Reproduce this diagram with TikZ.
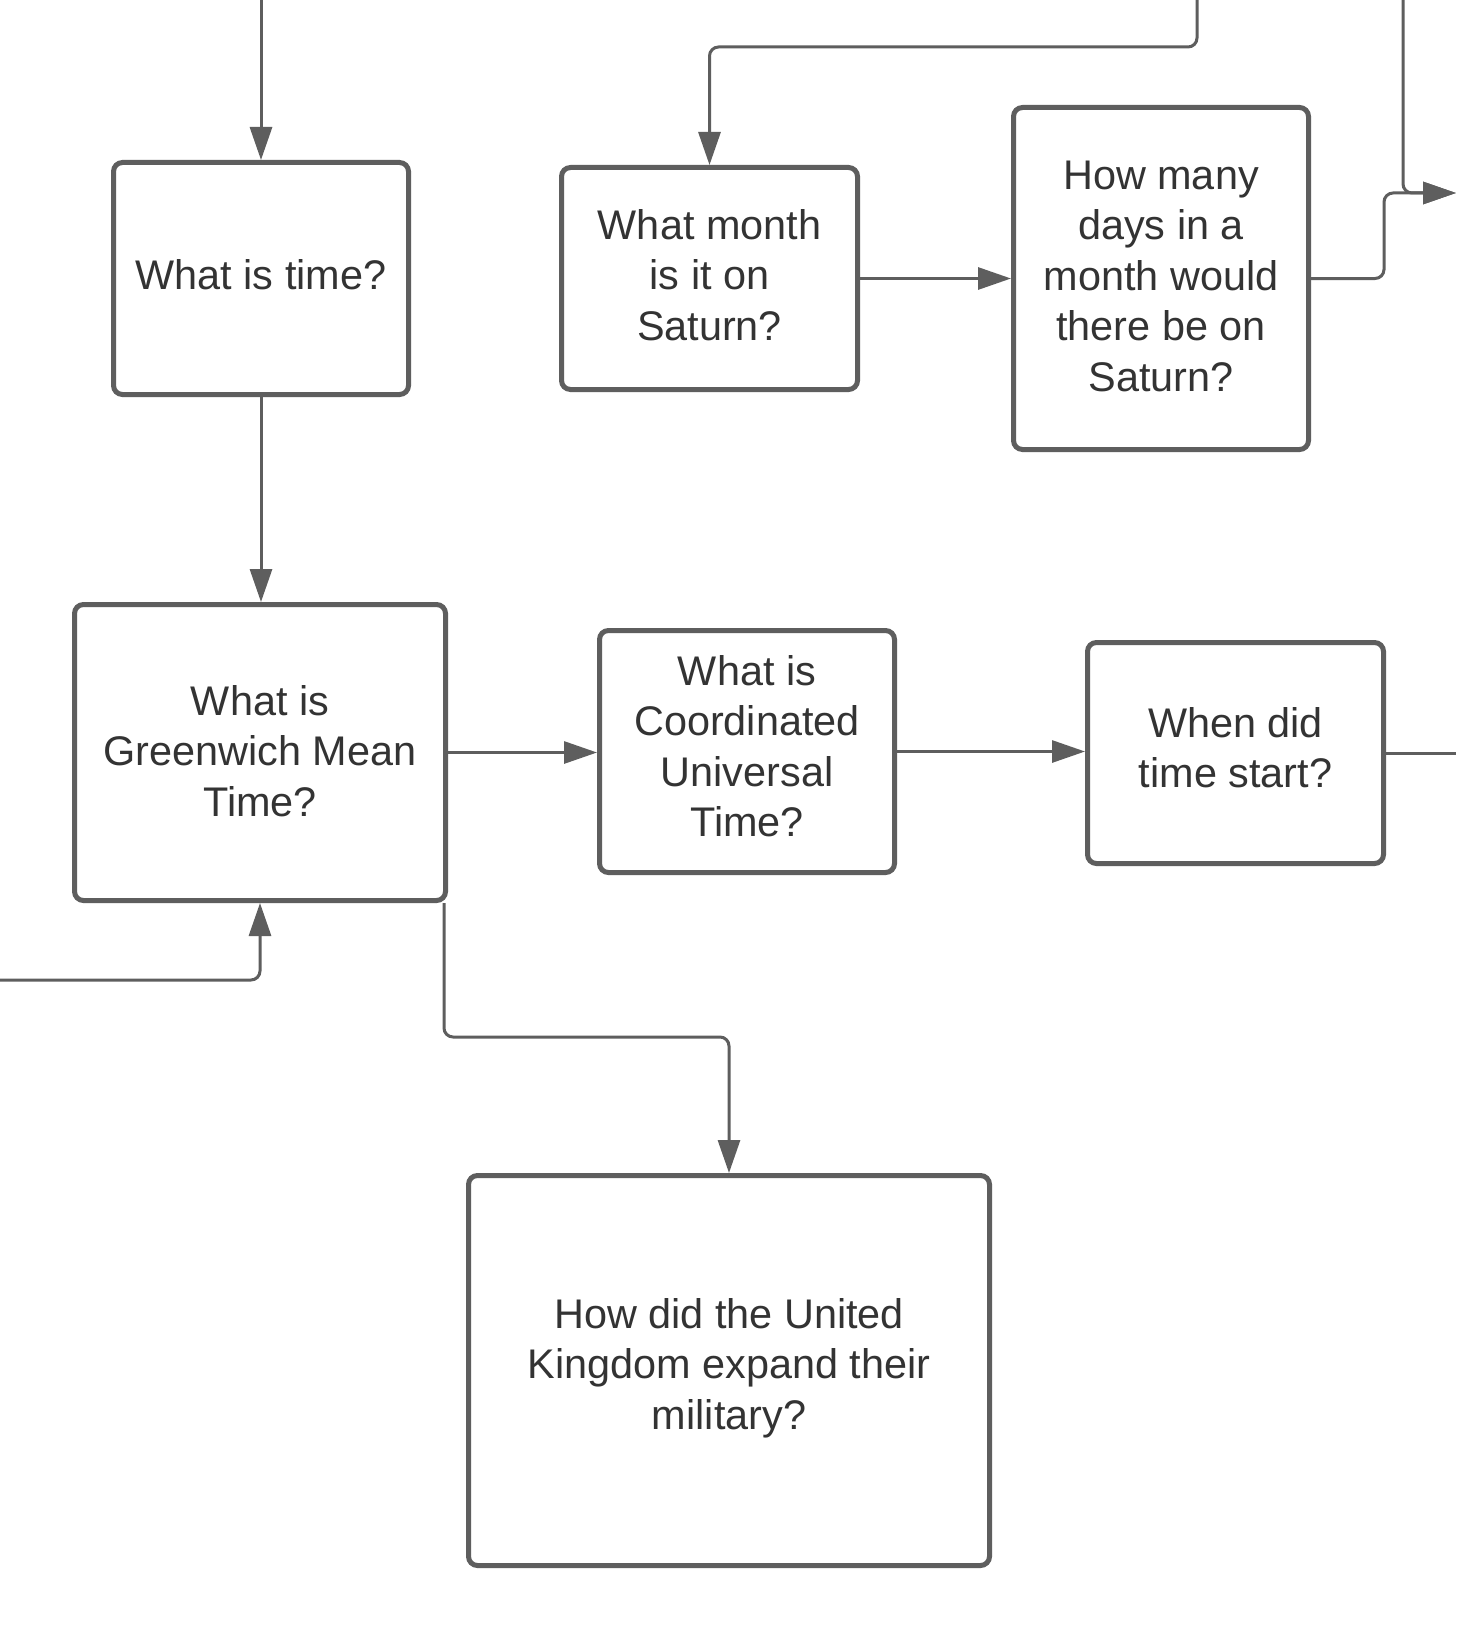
\documentclass[tikz,border=0pt]{standalone}
\usepackage{fontspec}
\setmainfont{Liberation Sans}
\usetikzlibrary{arrows.meta}
\definecolor{edgegray}{HTML}{5E5E5E}
\definecolor{txtgray}{HTML}{333333}
\begin{document}
\begin{tikzpicture}[x=1pt,y=-1pt,
  qbox/.style={draw=edgegray, line width=5pt, rounded corners=9pt, fill=white,
    align=center, inner sep=0pt, text=txtgray,
    font=\fontsize{41.4pt}{50.5pt}\selectfont},
  tdrop/.style={execute at end node={\rule[-#1]{0pt}{0pt}}},
  conn/.style={draw=edgegray, line width=3pt, rounded corners=9pt,
    -{Triangle[length=33pt,width=22pt]}},
  plainconn/.style={draw=edgegray, line width=3pt, rounded corners=9pt}]
\fill[white] (0,0) rectangle (1456,1648);
\useasboundingbox (0,0) rectangle (1456,1648);

\node[qbox, tdrop=8pt, minimum width=295pt, minimum height=232pt] (A) at (261,278.5) {What is time?};
\node[qbox, tdrop=8pt, minimum width=296pt, minimum height=222pt] (B) at (709.5,278.5) {What month\\is it on\\Saturn?};
\node[qbox, tdrop=5pt, minimum width=295pt, minimum height=342pt] (C) at (1161,278.5) {How many\\days in a\\month would\\there be on\\Saturn?};
\node[qbox, tdrop=4pt, minimum width=371pt, minimum height=296pt] (D) at (260,752.5) {What is\\Greenwich Mean\\Time?};
\node[qbox, tdrop=11pt, minimum width=295pt, minimum height=242pt] (E) at (747,751.5) {What is\\Coordinated\\Universal\\Time?};
\node[qbox, tdrop=11pt, minimum width=296pt, minimum height=221pt] (F) at (1235.5,753) {When did\\time start?};
\node[qbox, tdrop=14pt, minimum width=521pt, minimum height=390pt] (G) at (729,1370.5) {How did the United\\Kingdom expand their\\military?};

\coordinate (top1) at (261,0);
\coordinate (top2) at (1197,0);
\coordinate (top3) at (1403,0);
\coordinate (outR) at (1456,193);
\coordinate (outF) at (1456,753);
\coordinate (inL) at (0,980);
\coordinate (dstart) at (444,903);

\draw[conn] (top1) -- (A.north);
\draw[conn] (A.south) -- (A.south |- D.north);
\draw[conn] (top2) -- (1197,47) -| (B.north);
\draw[conn] (B.east) -- (C.west);
\draw[conn] (top3) |- (outR);
\draw[conn] (C.east) -- (1384,278.5) |- (outR);
\draw[conn] (D.east) -- (D.east -| E.west);
\draw[conn] (E.east) -- (E.east -| F.west);
\draw[plainconn] (F.east) -- (outF);
\draw[conn] (inL) -| (D.south);
\draw[conn] (dstart) -- (444,1037) -| (G.north);
\end{tikzpicture}
\end{document}
